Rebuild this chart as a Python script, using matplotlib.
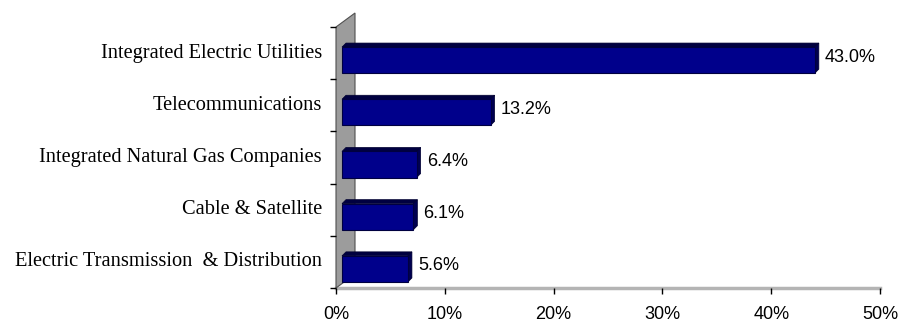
import matplotlib.pyplot as plt
from matplotlib.patches import Polygon, Rectangle

# data, top to bottom
categories = ["Integrated Electric Utilities", "Telecommunications",
              "Integrated Natural Gas Companies", "Cable & Satellite",
              "Electric Transmission  & Distribution"]
values = [43.0, 13.2, 6.4, 6.1, 5.6]
xticks = [0, 10, 20, 30, 40, 50]

W, H = 900, 322
fig = plt.figure(figsize=(9, 3.22), dpi=100)
ax = fig.add_axes([336 / W, 34 / H, 544 / W, 261 / H])
ax.set_xlim(0, 50)
ax.set_ylim(0, 5)

# pixel -> data helpers
px = 50 / 544
py = 5 / 261

# side wall (fake 3d)
wd_x, wd_y = 19 * px, 14 * py
ax.add_patch(Polygon([(0, 0), (0, 5), (wd_x, 5 + wd_y), (wd_x, wd_y)],
                     closed=True, facecolor="#9c9c9c", edgecolor="#505050",
                     lw=0.8, clip_on=False, zorder=1))
# floor line
ax.plot([0, 50], [0, 0], color="#b4b4b4", lw=2.5, clip_on=False, zorder=0)

off_x, off_y = 11 * px, 7 * py
tx, ty = 4 * px, 4 * py
bh = 0.5
n = len(categories)
for i, (cat, v) in enumerate(zip(categories, values)):
    c = n - 1 - i + 0.5 - off_y
    x0, x1 = 6 * px, v + off_x
    y0, y1 = c - bh / 2, c + bh / 2
    # top face
    ax.add_patch(Polygon([(x0, y1), (x1, y1), (x1 + tx, y1 + ty), (x0 + tx, y1 + ty)],
                         closed=True, facecolor="#000040", edgecolor="#000030",
                         lw=0.5, clip_on=False, zorder=3))
    # end face
    ax.add_patch(Polygon([(x1, y0), (x1, y1), (x1 + tx, y1 + ty), (x1 + tx, y0 + ty)],
                         closed=True, facecolor="#000050", edgecolor="#000030",
                         lw=0.5, clip_on=False, zorder=3))
    # front face
    ax.add_patch(Rectangle((x0, y0), x1 - x0, bh, facecolor="#00008b",
                           edgecolor="#000040", lw=0.8, clip_on=False, zorder=4))
    ax.text(x1 + tx + 6 * px, c + 3 * py, f"{v:.1f}%", va="center", ha="left",
            fontsize=13, family="Liberation Sans", color="black")
    ax.text(-14 * px, n - 1 - i + 0.5, cat, va="center", ha="right",
            fontsize=14.7, family="Liberation Serif", color="black")

for s in ax.spines.values():
    s.set_visible(False)

ax.set_yticks(range(n + 1))
ax.set_yticklabels([])
ax.tick_params(axis="y", length=4, width=1, color="black", direction="out")
ax.set_xticks(xticks)
ax.set_xticklabels([f"{t}%" for t in xticks], fontsize=13, family="Liberation Sans")
ax.tick_params(axis="x", length=4, width=1, color="black", pad=9)

fig.savefig("out.png", dpi=100)
